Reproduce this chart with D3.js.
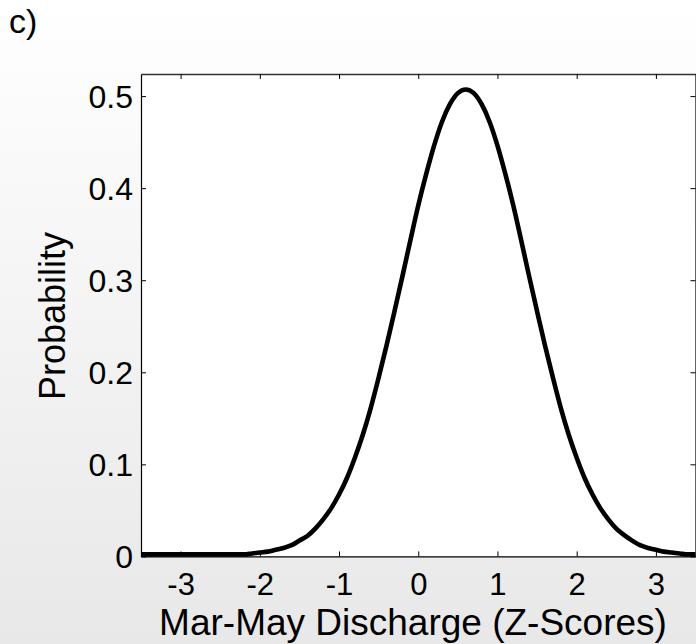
<!DOCTYPE html>
<html>
<head>
<meta charset="utf-8">
<script src="https://cdn.jsdelivr.net/npm/d3@7"></script>
<style>
  html, body { margin: 0; padding: 0; background: #fff; }
  svg { display: block; }
  text { font-family: "Liberation Sans", Arial, sans-serif; fill: #000; }
</style>
</head>
<body>
<svg id="chart" width="696" height="644"></svg>
<script>
// Probability density of Mar-May discharge (z-scores)
const zScores = [
  -3.5, -2.2, -2.1, -2.0, -1.9, -1.8, -1.7, -1.6, -1.5, -1.4, -1.3, -1.2, -1.1, -1.0,
  -0.9, -0.8, -0.7, -0.6, -0.5, -0.4, -0.3, -0.2, -0.1, 0.0, 0.1, 0.2, 0.3, 0.4, 0.5,
  0.6, 0.7, 0.8, 0.9, 1.0, 1.1, 1.2, 1.3, 1.4, 1.5, 1.6, 1.7, 1.8, 1.9, 2.0, 2.1, 2.2,
  2.3, 2.4, 2.5, 2.6, 2.7, 2.8, 2.9, 3.0, 3.1, 3.2, 3.3, 3.4, 3.5
];
const probability = [
  0.0, 0.0, 0.001, 0.002, 0.003, 0.005, 0.007, 0.010, 0.015, 0.020, 0.028, 0.038, 0.050, 0.065,
  0.083, 0.105, 0.130, 0.159, 0.192, 0.227, 0.264, 0.302, 0.341, 0.379, 0.413, 0.444, 0.470, 0.489, 0.501,
  0.505, 0.501, 0.489, 0.470, 0.444, 0.413, 0.379, 0.341, 0.302, 0.264, 0.227, 0.192, 0.159, 0.130, 0.105, 0.083, 0.065,
  0.050, 0.038, 0.028, 0.021, 0.015, 0.010, 0.007, 0.005, 0.003, 0.002, 0.001, 0.0, 0.0
];
const xTicks = [-3, -2, -1, 0, 1, 2, 3];
const yTicks = [0, 0.1, 0.2, 0.3, 0.4, 0.5];
const xTickLabels = ["-3", "-2", "-1", "0", "1", "2", "3"];
const yTickLabels = ["0", "0.1", "0.2", "0.3", "0.4", "0.5"];

const svg = d3.select("#chart");
const W = 696, H = 644;
const plot = { left: 141, right: 695.5, top: 74, bottom: 556.4 };

// figure background: soft vertical gradient
const defs = svg.append("defs");
const grad = defs.append("linearGradient").attr("id", "bg")
  .attr("x1", 0).attr("y1", 0).attr("x2", 0).attr("y2", 1);
grad.append("stop").attr("offset", "0%").attr("stop-color", "#ffffff");
grad.append("stop").attr("offset", "100%").attr("stop-color", "#e8e8e8");
svg.append("rect").attr("width", W).attr("height", H).attr("fill", "url(#bg)");

const x = d3.scaleLinear().domain([-3.5, 3.5]).range([plot.left, plot.right]);
const y = d3.scaleLinear().domain([0, 0.524]).range([plot.bottom, plot.top]);

// axes background
svg.append("rect")
  .attr("x", plot.left).attr("y", plot.top)
  .attr("width", plot.right - plot.left).attr("height", plot.bottom - plot.top)
  .attr("fill", "#fff");

// density curve
const line = d3.line().x((d, i) => x(zScores[i])).y(d => y(d)).curve(d3.curveMonotoneX);
svg.append("path")
  .datum(probability)
  .attr("d", line)
  .attr("fill", "none")
  .attr("stroke", "#000")
  .attr("stroke-width", 4.6)
  .attr("stroke-linejoin", "round")
  .attr("transform", "translate(0,-2)");

const tickLen = 5;
const axisStyle = g => {
  g.select(".domain").attr("stroke", "#000").attr("stroke-width", 1.2);
  g.selectAll(".tick line").attr("stroke", "#000").attr("stroke-width", 1);
};

// bottom axis with labels
const xAxis = svg.append("g")
  .attr("transform", `translate(0,${plot.bottom})`)
  .call(d3.axisBottom(x).tickValues(xTicks).tickSize(-tickLen).tickSizeOuter(0)
    .tickFormat((d, i) => xTickLabels[i]))
  .call(axisStyle);
xAxis.selectAll(".tick text")
  .attr("font-size", 31).attr("font-family", "Liberation Sans, Arial, sans-serif")
  .attr("fill", "#000").attr("y", 39).attr("dy", 0);

// top axis, ticks only
svg.append("g")
  .attr("transform", `translate(0,${plot.top})`)
  .call(d3.axisTop(x).tickValues(xTicks).tickSize(-tickLen).tickSizeOuter(0).tickFormat(""))
  .call(axisStyle)
  .call(g => g.select(".domain").attr("stroke", "#333").attr("stroke-width", 1.4));

// left axis with labels
const yAxis = svg.append("g")
  .attr("transform", `translate(${plot.left},0)`)
  .call(d3.axisLeft(y).tickValues(yTicks).tickSize(-tickLen).tickSizeOuter(0).tickPadding(8)
    .tickFormat((d, i) => yTickLabels[i]))
  .call(axisStyle);
yAxis.selectAll(".tick text")
  .attr("font-size", 32).attr("font-family", "Liberation Sans, Arial, sans-serif")
  .attr("fill", "#000").attr("x", -8).attr("dy", "0.36em");

// right axis, ticks only
svg.append("g")
  .attr("transform", `translate(${plot.right},0)`)
  .call(d3.axisRight(y).tickValues(yTicks).tickSize(-tickLen).tickSizeOuter(0).tickFormat(""))
  .call(axisStyle);

// axis titles
svg.append("text")
  .attr("x", 413).attr("y", 635)
  .attr("text-anchor", "middle").attr("font-size", 37)
  .text("Mar-May Discharge (Z-Scores)");

svg.append("text")
  .attr("transform", `translate(65,316) rotate(-90)`)
  .attr("text-anchor", "middle").attr("font-size", 36)
  .text("Probability");

// panel letter
svg.append("text")
  .attr("x", 9).attr("y", 33)
  .attr("font-size", 34)
  .text("c)");
</script>
</body>
</html>
